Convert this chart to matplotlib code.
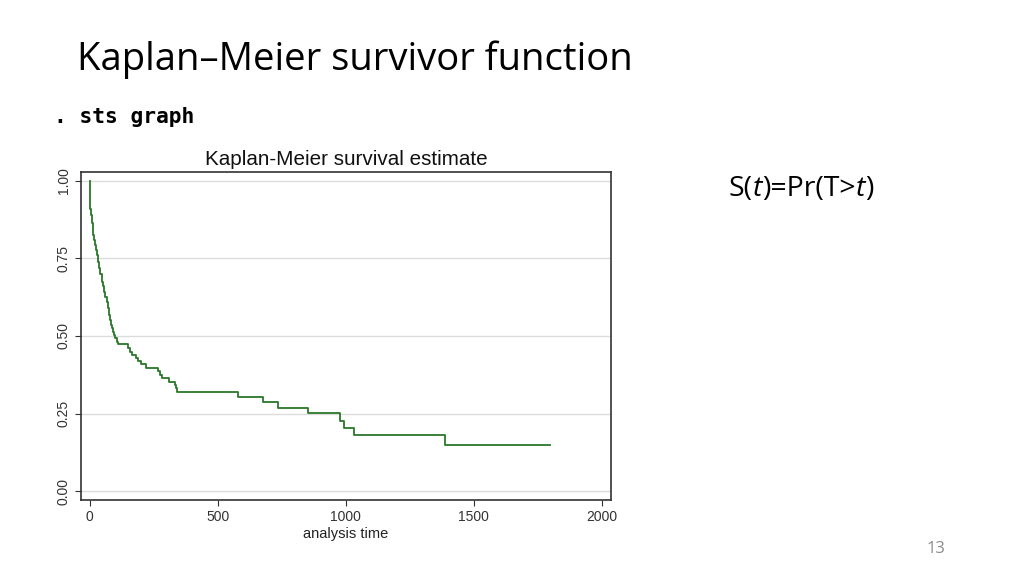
import matplotlib
matplotlib.use("Agg")
from matplotlib import pyplot as plt

# Kaplan-Meier step curve: time at which survival drops to the given value
km_time = [0, 1, 2, 3, 5, 8, 11, 14, 18, 22, 26, 30, 34, 38, 42, 47, 51, 56,
           61, 66, 70, 74, 78, 82, 86, 90, 95, 100, 105, 112, 150, 156, 165,
           180, 187, 200, 219, 265, 275, 282, 310, 333, 338, 342, 580, 675,
           734, 853, 978, 994, 1033, 1387]
km_surv = [1.0, 0.97, 0.94, 0.91, 0.89, 0.864, 0.845, 0.826, 0.81, 0.794,
           0.778, 0.761, 0.74, 0.718, 0.70, 0.675, 0.66, 0.643, 0.627, 0.61,
           0.59, 0.568, 0.55, 0.535, 0.525, 0.513, 0.503, 0.492, 0.482, 0.473,
           0.461, 0.449, 0.439, 0.429, 0.419, 0.409, 0.398, 0.387, 0.375,
           0.363, 0.353, 0.342, 0.331, 0.320, 0.304, 0.286, 0.269, 0.251,
           0.226, 0.202, 0.181, 0.149]
km_end = 1797

x_ticks = [0, 500, 1000, 1500, 2000]
y_ticks = [0.0, 0.25, 0.5, 0.75, 1.0]
y_tick_labels = ['0.00', '0.25', '0.50', '0.75', '1.00']

W, H = 1024, 575
fig = plt.figure(figsize=(W / 100, H / 100), dpi=100)
fig.patch.set_facecolor('white')

# slide texts
fig.text(77 / W, 1 - 60 / H, 'Kaplan\u2013Meier survivor function',
         family='Open Sans', fontsize=27.5, va='center', ha='left', color='black')
fig.text(54 / W, 1 - 117 / H, '. sts graph', family='DejaVu Sans Mono',
         weight='bold', fontsize=15.3, va='center', ha='left', color='black')
fig.text(936 / W, 1 - 549 / H, '13', family='Open Sans', fontsize=12,
         color='#8c8c8c', ha='center', va='center')

# Stata graph
ax = fig.add_axes([81 / W, 1 - 500 / H, 530 / W, 328 / H])
xs = km_time + [km_end]
ys = km_surv + [km_surv[-1]]
ax.step(xs, ys, where='post', color='#2a772a', lw=1.3)

ax.set_xlim(-34, 2036)
ax.set_ylim(-0.029, 1.029)
ax.set_xticks(x_ticks)
ax.set_yticks(y_ticks)
ax.set_yticklabels(y_tick_labels, rotation=90, va='center')
ax.tick_params(direction='out', length=4, width=0.8, colors='#333333',
               labelsize=10, labelcolor='#333333')
for lab in ax.get_xticklabels() + ax.get_yticklabels():
    lab.set_family('Liberation Sans')
ax.grid(axis='y', color='#dcdcdc', lw=1)
ax.set_axisbelow(True)
for sp in ax.spines.values():
    sp.set_color('#333333')
    sp.set_linewidth(1.2)
ax.set_xlabel('analysis time', family='Liberation Sans', fontsize=10.5,
              color='#222222', labelpad=2)
ax.set_title('Kaplan-Meier survival estimate', family='Liberation Sans',
             fontsize=14.9, color='#111111', pad=5)

# formula with italic t, pieces laid out side by side
renderer = fig.canvas.get_renderer()
pieces = [('S(', 'normal'), ('t', 'italic'), (')=Pr(T>', 'normal'),
          ('t', 'italic'), (')', 'normal')]
xpos = 729
for txt, style in pieces:
    t = fig.text(xpos / W, 1 - 196 / H, txt, family='Open Sans', style=style,
                 fontsize=20.5, va='baseline', ha='left', color='black')
    xpos = t.get_window_extent(renderer).x1

fig.savefig('out.png', dpi=100)
